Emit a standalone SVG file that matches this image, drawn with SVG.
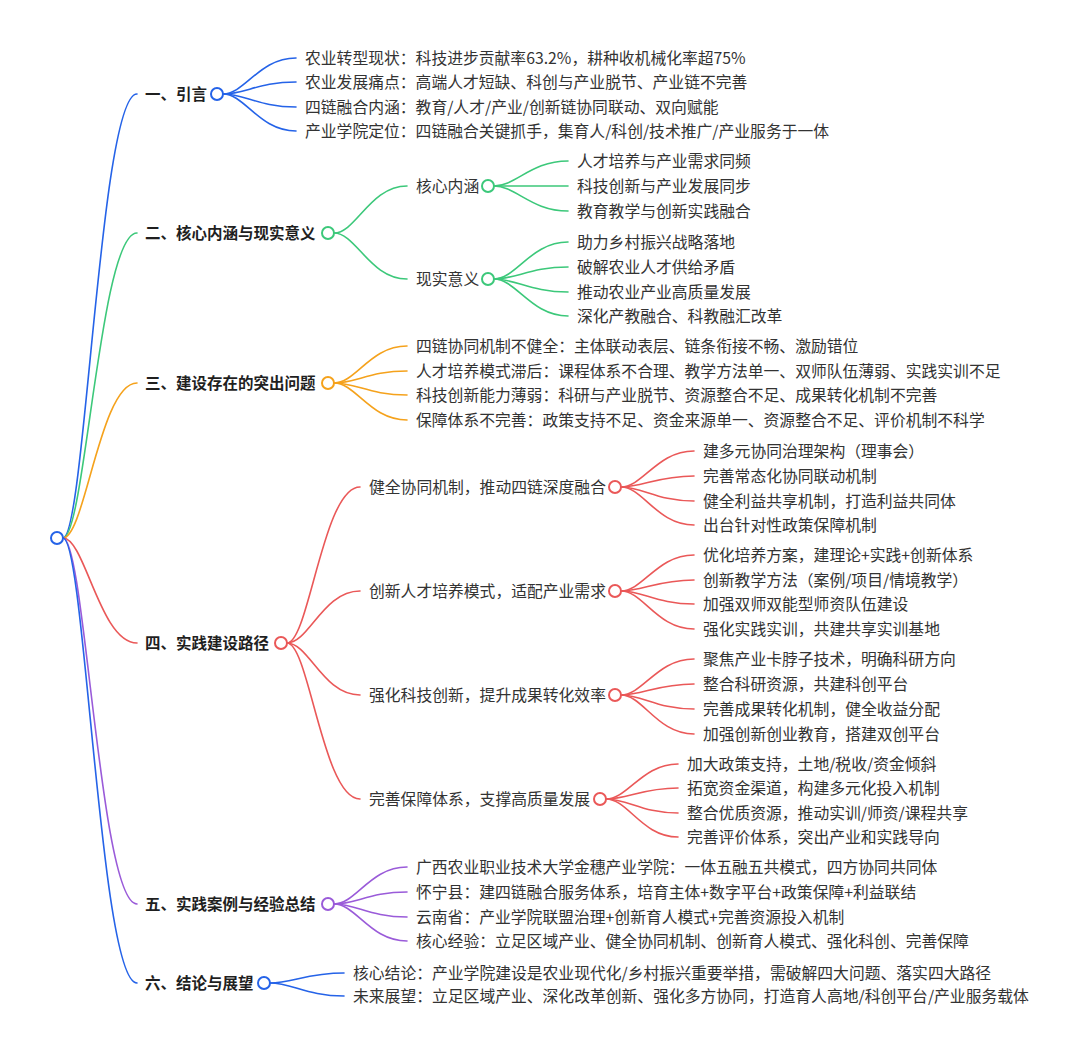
<svg xmlns="http://www.w3.org/2000/svg" width="1080" height="1053" viewBox="0 0 1080 1053">
<style>
text{font-family:"Noto Sans CJK SC","Noto Sans",sans-serif;font-size:15.8px;fill:#333}
.h{font-weight:bold;font-size:15.5px;fill:#1f1f1f}
path{fill:none;stroke-width:1.6;stroke-linecap:round}
circle{fill:#fff;stroke-width:2}
.b{stroke:#2563e8}.g{stroke:#3cc87a}.o{stroke:#f5a21c}.r{stroke:#ea5858}.p{stroke:#9a5bd9}
</style>
<rect width="1080" height="1053" fill="#fff"/>
<g id="connectors">
<path class="b" d="M63,538 C85,538 100,94 137,94"/>
<path class="g" d="M63,538 C85,538 100,233 137,233"/>
<path class="o" d="M63,538 C85,538 100,383 137,383"/>
<path class="r" d="M63,538 C85,538 100,643 137,643"/>
<path class="p" d="M63,538 C85,538 100,904 137,904"/>
<path class="b" d="M63,538 C85,538 100,983 137,983"/>
<path class="b" d="M223,94 C245,94 259,58 296,58"/>
<path class="b" d="M223,94 C245,94 259,82 296,82"/>
<path class="b" d="M223,94 C245,94 259,107 296,107"/>
<path class="b" d="M223,94 C245,94 259,131 296,131"/>
<path class="g" d="M334,233 C356,233 370,186 407,186"/>
<path class="g" d="M334,233 C356,233 370,279 407,279"/>
<path class="g" d="M494,186 C516,186 531,161 568,161"/>
<path class="g" d="M494,186 C516,186 531,186 568,186"/>
<path class="g" d="M494,186 C516,186 531,211 568,211"/>
<path class="g" d="M494,279 C516,279 531,242 568,242"/>
<path class="g" d="M494,279 C516,279 531,267 568,267"/>
<path class="g" d="M494,279 C516,279 531,292 568,292"/>
<path class="g" d="M494,279 C516,279 531,316 568,316"/>
<path class="o" d="M334,383 C356,383 370,346 407,346"/>
<path class="o" d="M334,383 C356,383 370,371 407,371"/>
<path class="o" d="M334,383 C356,383 370,395 407,395"/>
<path class="o" d="M334,383 C356,383 370,420 407,420"/>
<path class="r" d="M287,643 C309,643 323,487 360,487"/>
<path class="r" d="M287,643 C309,643 323,591 360,591"/>
<path class="r" d="M287,643 C309,643 323,695 360,695"/>
<path class="r" d="M287,643 C309,643 323,799 360,799"/>
<path class="r" d="M621,487 C643,487 657,451 694,451"/>
<path class="r" d="M621,487 C643,487 657,476 694,476"/>
<path class="r" d="M621,487 C643,487 657,501 694,501"/>
<path class="r" d="M621,487 C643,487 657,525 694,525"/>
<path class="r" d="M621,591 C643,591 657,555 694,555"/>
<path class="r" d="M621,591 C643,591 657,580 694,580"/>
<path class="r" d="M621,591 C643,591 657,604 694,604"/>
<path class="r" d="M621,591 C643,591 657,629 694,629"/>
<path class="r" d="M621,695 C643,695 657,659 694,659"/>
<path class="r" d="M621,695 C643,695 657,684 694,684"/>
<path class="r" d="M621,695 C643,695 657,709 694,709"/>
<path class="r" d="M621,695 C643,695 657,734 694,734"/>
<path class="r" d="M606,799 C628,799 642,764 678,764"/>
<path class="r" d="M606,799 C628,799 642,788 678,788"/>
<path class="r" d="M606,799 C628,799 642,813 678,813"/>
<path class="r" d="M606,799 C628,799 642,837 678,837"/>
<path class="p" d="M334,904 C356,904 370,867 407,867"/>
<path class="p" d="M334,904 C356,904 370,892 407,892"/>
<path class="p" d="M334,904 C356,904 370,917 407,917"/>
<path class="p" d="M334,904 C356,904 370,941 407,941"/>
<path class="b" d="M270,983 C292,983 307,973 344,973"/>
<path class="b" d="M270,983 C292,983 307,996 344,996"/>
</g>
<g id="root"><circle class="b" cx="57" cy="538" r="6"/></g>
<g id="n1"><text class="h" x="145" y="100">一、引言</text><circle class="b" cx="217" cy="94" r="6"/></g>
<g id="n1-1"><text x="305" y="64">农业转型现状：科技进步贡献率63.2%，耕种收机械化率超75%</text></g>
<g id="n1-2"><text x="305" y="88">农业发展痛点：高端人才短缺、科创与产业脱节、产业链不完善</text></g>
<g id="n1-3"><text x="305" y="113">四链融合内涵：教育/人才/产业/创新链协同联动、双向赋能</text></g>
<g id="n1-4"><text x="305" y="137">产业学院定位：四链融合关键抓手，集育人/科创/技术推广/产业服务于一体</text></g>
<g id="n2"><text class="h" x="145" y="239">二、核心内涵与现实意义</text><circle class="g" cx="328" cy="233" r="6"/></g>
<g id="n2-1"><text x="416" y="192">核心内涵</text><circle class="g" cx="488" cy="186" r="6"/></g>
<g id="n2-1-1"><text x="577" y="167">人才培养与产业需求同频</text></g>
<g id="n2-1-2"><text x="577" y="192">科技创新与产业发展同步</text></g>
<g id="n2-1-3"><text x="577" y="217">教育教学与创新实践融合</text></g>
<g id="n2-2"><text x="416" y="285">现实意义</text><circle class="g" cx="488" cy="279" r="6"/></g>
<g id="n2-2-1"><text x="577" y="248">助力乡村振兴战略落地</text></g>
<g id="n2-2-2"><text x="577" y="273">破解农业人才供给矛盾</text></g>
<g id="n2-2-3"><text x="577" y="298">推动农业产业高质量发展</text></g>
<g id="n2-2-4"><text x="577" y="322">深化产教融合、科教融汇改革</text></g>
<g id="n3"><text class="h" x="145" y="389">三、建设存在的突出问题</text><circle class="o" cx="328" cy="383" r="6"/></g>
<g id="n3-1"><text x="416" y="352">四链协同机制不健全：主体联动表层、链条衔接不畅、激励错位</text></g>
<g id="n3-2"><text x="416" y="377">人才培养模式滞后：课程体系不合理、教学方法单一、双师队伍薄弱、实践实训不足</text></g>
<g id="n3-3"><text x="416" y="401">科技创新能力薄弱：科研与产业脱节、资源整合不足、成果转化机制不完善</text></g>
<g id="n3-4"><text x="416" y="426">保障体系不完善：政策支持不足、资金来源单一、资源整合不足、评价机制不科学</text></g>
<g id="n4"><text class="h" x="145" y="649">四、实践建设路径</text><circle class="r" cx="281" cy="643" r="6"/></g>
<g id="n4-1"><text x="369" y="493">健全协同机制，推动四链深度融合</text><circle class="r" cx="615" cy="487" r="6"/></g>
<g id="n4-1-1"><text x="703" y="457">建多元协同治理架构（理事会）</text></g>
<g id="n4-1-2"><text x="703" y="482">完善常态化协同联动机制</text></g>
<g id="n4-1-3"><text x="703" y="507">健全利益共享机制，打造利益共同体</text></g>
<g id="n4-1-4"><text x="703" y="531">出台针对性政策保障机制</text></g>
<g id="n4-2"><text x="369" y="597">创新人才培养模式，适配产业需求</text><circle class="r" cx="615" cy="591" r="6"/></g>
<g id="n4-2-1"><text x="703" y="561">优化培养方案，建理论+实践+创新体系</text></g>
<g id="n4-2-2"><text x="703" y="586">创新教学方法（案例/项目/情境教学）</text></g>
<g id="n4-2-3"><text x="703" y="610">加强双师双能型师资队伍建设</text></g>
<g id="n4-2-4"><text x="703" y="635">强化实践实训，共建共享实训基地</text></g>
<g id="n4-3"><text x="369" y="701">强化科技创新，提升成果转化效率</text><circle class="r" cx="615" cy="695" r="6"/></g>
<g id="n4-3-1"><text x="703" y="665">聚焦产业卡脖子技术，明确科研方向</text></g>
<g id="n4-3-2"><text x="703" y="690">整合科研资源，共建科创平台</text></g>
<g id="n4-3-3"><text x="703" y="715">完善成果转化机制，健全收益分配</text></g>
<g id="n4-3-4"><text x="703" y="740">加强创新创业教育，搭建双创平台</text></g>
<g id="n4-4"><text x="369" y="805">完善保障体系，支撑高质量发展</text><circle class="r" cx="600" cy="799" r="6"/></g>
<g id="n4-4-1"><text x="687" y="770">加大政策支持，土地/税收/资金倾斜</text></g>
<g id="n4-4-2"><text x="687" y="794">拓宽资金渠道，构建多元化投入机制</text></g>
<g id="n4-4-3"><text x="687" y="819">整合优质资源，推动实训/师资/课程共享</text></g>
<g id="n4-4-4"><text x="687" y="843">完善评价体系，突出产业和实践导向</text></g>
<g id="n5"><text class="h" x="145" y="910">五、实践案例与经验总结</text><circle class="p" cx="328" cy="904" r="6"/></g>
<g id="n5-1"><text x="416" y="873">广西农业职业技术大学金穗产业学院：一体五融五共模式，四方协同共同体</text></g>
<g id="n5-2"><text x="416" y="898">怀宁县：建四链融合服务体系，培育主体+数字平台+政策保障+利益联结</text></g>
<g id="n5-3"><text x="416" y="923">云南省：产业学院联盟治理+创新育人模式+完善资源投入机制</text></g>
<g id="n5-4"><text x="416" y="947">核心经验：立足区域产业、健全协同机制、创新育人模式、强化科创、完善保障</text></g>
<g id="n6"><text class="h" x="145" y="989">六、结论与展望</text><circle class="b" cx="264" cy="983" r="6"/></g>
<g id="n6-1"><text x="353" y="979">核心结论：产业学院建设是农业现代化/乡村振兴重要举措，需破解四大问题、落实四大路径</text></g>
<g id="n6-2"><text x="353" y="1002">未来展望：立足区域产业、深化改革创新、强化多方协同，打造育人高地/科创平台/产业服务载体</text></g>
</svg>
